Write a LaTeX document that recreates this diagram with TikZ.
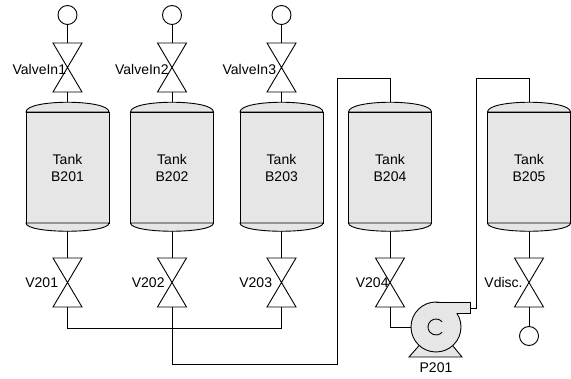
\documentclass[tikz,border=0pt]{standalone}
\usepackage{fontspec}
\setmainfont{Liberation Sans}
\usetikzlibrary{positioning}
\definecolor{tankgray}{RGB}{230,230,230}

\begin{document}
\begin{tikzpicture}[
    x=1pt, y=1pt,
    line width=0.9pt,
    every node/.style={font=\fontsize{14}{17}\selectfont},
    tank/.style={
        draw=black,
        fill=tankgray,
        minimum width=83pt,
        minimum height=111pt,
        inner sep=0pt,
        outer sep=0pt,
        align=center
    },
    dome/.style={draw=black, fill=tankgray},
    valve/.style={minimum width=29pt, minimum height=49pt, inner sep=0pt, outer sep=0pt},
    endpt/.style={circle, draw=black, fill=white, minimum size=19pt, inner sep=0pt, outer sep=0pt},
    vlabel/.style={inner sep=0pt},
    pump/.style={circle, draw=black, fill=tankgray, minimum size=50pt, inner sep=0pt, outer sep=0pt}
]
\useasboundingbox (0,0) rectangle (571,-379);

\node[tank] (B201) at (67.5,-167.5) {Tank\\B201};
\node[tank] (B202) at (172,-167.5) {Tank\\B202};
\node[tank] (B203) at (281.5,-167.5) {Tank\\B203};
\node[tank] (B204) at (390,-167.5) {Tank\\B204};
\node[tank] (B205) at (529,-167.5) {Tank\\B205};

\node[endpt] (In1) at (67.5,-15) {};
\node[endpt] (In2) at (172,-15) {};
\node[endpt] (In3) at (281.5,-15) {};
\node[endpt] (Disc) at (529,-336) {};

\node[valve] (ValveIn1) at (67.5,-67.5) {};
\node[valve] (ValveIn2) at (172,-67.5) {};
\node[valve] (ValveIn3) at (281.5,-67.5) {};
\node[valve] (V201) at (67.5,-282.5) {};
\node[valve] (V202) at (172,-282.5) {};
\node[valve] (V203) at (281.5,-282.5) {};
\node[valve] (V204) at (390,-282.5) {};
\node[valve] (Vdisc) at (529,-282.5) {};

\draw (ValveIn1.north west) -- (ValveIn1.south east) -- (ValveIn1.south west) -- (ValveIn1.north east) -- cycle;
\draw (ValveIn2.north west) -- (ValveIn2.south east) -- (ValveIn2.south west) -- (ValveIn2.north east) -- cycle;
\draw (ValveIn3.north west) -- (ValveIn3.south east) -- (ValveIn3.south west) -- (ValveIn3.north east) -- cycle;
\draw (V201.north west) -- (V201.south east) -- (V201.south west) -- (V201.north east) -- cycle;
\draw (V202.north west) -- (V202.south east) -- (V202.south west) -- (V202.north east) -- cycle;
\draw (V203.north west) -- (V203.south east) -- (V203.south west) -- (V203.north east) -- cycle;
\draw (V204.north west) -- (V204.south east) -- (V204.south west) -- (V204.north east) -- cycle;
\draw (Vdisc.north west) -- (Vdisc.south east) -- (Vdisc.south west) -- (Vdisc.north east) -- cycle;

\node[vlabel, left=1pt of ValveIn1.center, yshift=-2pt] (ValveIn1-text) {ValveIn1};
\node[vlabel, left=3pt of ValveIn2.center, yshift=-2pt] (ValveIn2-text) {ValveIn2};
\node[vlabel, left=5pt of ValveIn3.center, yshift=-2pt] (ValveIn3-text) {ValveIn3};
\node[vlabel, left=9pt of V201.center] (V201-text) {V201};
\node[vlabel, left=7pt of V202.center] (V202-text) {V202};
\node[vlabel, left=9pt of V203.center] (V203-text) {V203};
\node[vlabel, left=1pt of V204.center] (V204-text) {V204};
\node[vlabel, left=6pt of Vdisc.center] (Vdisc-text) {Vdisc.};

\filldraw[fill=tankgray] (409,-357) -- (462,-357) -- (448,-340) -- (424,-340) -- cycle;
\node[pump] (P201) at (436,-327) {};
\fill[tankgray] (P201.north) -- ++(34,0) -- ++(0,-11) -- (P201.34) -- (P201.center) -- cycle;
\draw (P201.north) -- ++(34,0) |- (P201.34);
\draw (P201.center) ++(40:8) arc[start angle=40, end angle=320, radius=8];
\node[vlabel, below=10pt of P201] (P201-text) {P201};
\coordinate (P201out) at (470,-308);

\draw (In1) -- (ValveIn1) -- (B201);
\draw (In2) -- (ValveIn2) -- (B202);
\draw (In3) -- (ValveIn3) -- (B203);
\draw (B201) -- (V201);
\draw (B202) -- (V202);
\draw (B203) -- (V203);
\draw (B204) -- (V204);
\draw (B205) -- (Vdisc) -- (Disc);
\draw (V201.south) -- ++(0,-21) -| (V203.south);
\draw (V202.south) |- (337,-364) -- (337,-78) -| (B204.north);
\draw (V204.south) |- (P201.west);
\draw (P201out) -- (476,-308) -- (476,-78) -| (B205.north);

\filldraw[dome] (B201.north west) .. controls +(0,13) and +(0,13) .. (B201.north east) -- cycle;
\filldraw[dome] (B201.south west) .. controls +(0,-11) and +(0,-11) .. (B201.south east) -- cycle;
\filldraw[dome] (B202.north west) .. controls +(0,13) and +(0,13) .. (B202.north east) -- cycle;
\filldraw[dome] (B202.south west) .. controls +(0,-11) and +(0,-11) .. (B202.south east) -- cycle;
\filldraw[dome] (B203.north west) .. controls +(0,13) and +(0,13) .. (B203.north east) -- cycle;
\filldraw[dome] (B203.south west) .. controls +(0,-11) and +(0,-11) .. (B203.south east) -- cycle;
\filldraw[dome] (B204.north west) .. controls +(0,13) and +(0,13) .. (B204.north east) -- cycle;
\filldraw[dome] (B204.south west) .. controls +(0,-11) and +(0,-11) .. (B204.south east) -- cycle;
\filldraw[dome] (B205.north west) .. controls +(0,13) and +(0,13) .. (B205.north east) -- cycle;
\filldraw[dome] (B205.south west) .. controls +(0,-11) and +(0,-11) .. (B205.south east) -- cycle;

\end{tikzpicture}
\end{document}
